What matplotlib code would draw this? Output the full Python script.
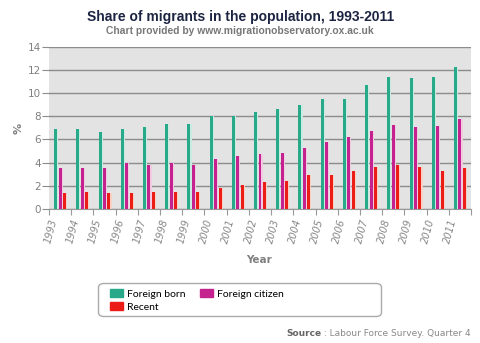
import numpy as np
import matplotlib
matplotlib.use("Agg")
import matplotlib.pyplot as plt
from matplotlib.patches import FancyBboxPatch, Patch

# 数据
years = [str(y) for y in range(1993, 2012)]
foreign_born = [6.9, 6.9, 6.6, 6.9, 7.1, 7.3, 7.3, 8.0, 8.0, 8.4, 8.6, 9.0, 9.5, 9.5,
                10.7, 11.4, 11.3, 11.4, 12.25]
foreign_citizen = [3.5, 3.5, 3.5, 4.0, 3.8, 3.95, 3.8, 4.35, 4.6, 4.75, 4.85, 5.25,
                   5.75, 6.25, 6.75, 7.25, 7.1, 7.2, 7.8]
recent = [1.35, 1.45, 1.35, 1.35, 1.45, 1.5, 1.5, 1.85, 2.05, 2.35, 2.45, 2.9, 2.95,
          3.3, 3.65, 3.8, 3.65, 3.3, 3.5]
series_names = ["Foreign born", "Foreign citizen", "Recent"]
y_ticks = [0, 2, 4, 6, 8, 10, 12, 14]

colors = ["#27a98a", "#c4228e", "#ec1d16"]
shade = ["#c9ece2", "#f2cbe3", "#fad0c2"]
grey = "#808080"

W, H = 480, 343
fig = plt.figure(figsize=(W / 100, H / 100), dpi=100)
fig.patch.set_facecolor("white")
ax = fig.add_axes([49 / W, 1 - 209 / H, 422 / W, (209 - 46.7) / H])
ax.set_facecolor("#e3e3e3")

x = np.arange(len(years))
bw = 0.135
step = 0.2
for i, vals in enumerate([foreign_born, foreign_citizen, recent]):
    pos = x + (i - 1) * step
    # 柱子右侧的浅色高光
    ax.bar(pos + 0.05, vals, width=bw, color=shade[i], zorder=2)
    ax.bar(pos, vals, width=bw, color=colors[i], zorder=3)

ax.set_xlim(-0.5, len(years) - 0.5)
ax.set_ylim(0, 14)
ax.set_yticks(y_ticks)
ax.yaxis.grid(True, color="#8c8c8c", linewidth=1.0, zorder=1)
ax.set_axisbelow(True)
for s in ["left", "right", "top"]:
    ax.spines[s].set_visible(False)
ax.spines["bottom"].set_color("#999999")
ax.tick_params(axis="y", length=5, color="#8c8c8c", labelsize=7.5, labelcolor=grey, pad=1)

# x 轴刻度画在分组边界处，年份标签放在组中央
ax.set_xticks(np.arange(len(years) + 1) - 0.5)
ax.set_xticklabels([])
ax.tick_params(axis="x", length=4, color="#999999")
for xi, yr in zip(x, years):
    ax.text(xi - 0.05, -0.75, yr, rotation=75, ha="right", va="top", fontsize=7,
            color="#888888", style="italic", family="DejaVu Sans")

fig.text(19 / W, 1 - 128 / H, "%", rotation=90, ha="center", va="center",
         fontsize=8, color=grey, fontweight="bold", family="DejaVu Sans")
fig.text(259 / W, 1 - 260 / H, "Year", ha="center", va="center", fontsize=7.5,
         color=grey, fontweight="bold", family="DejaVu Sans")

fig.text(241 / W, 1 - 17 / H, "Share of migrants in the population, 1993-2011",
         ha="center", va="center", fontsize=10, fontweight="bold", color="#1c2442",
         family="Liberation Sans")
fig.text(240 / W, 1 - 31 / H, "Chart provided by www.migrationobservatory.ox.ac.uk",
         ha="center", va="center", fontsize=7.4, fontweight="bold", color="#777777",
         family="Liberation Sans")

# 图例
box = FancyBboxPatch((98.5 / W, 1 - 316.5 / H), 283 / W, 33 / H,
                     boxstyle="round,pad=0,rounding_size=0.012",
                     transform=fig.transFigure, facecolor="white",
                     edgecolor="#aaaaaa", linewidth=1.0)
fig.patches.append(box)
handles = [Patch(facecolor=c, edgecolor=c) for c in colors]
order = [0, 2, 1]
fig.legend([handles[i] for i in order], [series_names[i] for i in order],
           loc="upper left", bbox_to_anchor=(103 / W, 1 - 282 / H), ncol=2,
           frameon=False, handlelength=1.2, handleheight=0.8,
           handletextpad=0.4, columnspacing=1.4, labelspacing=0.3,
           borderpad=0.2, prop={"family": "Lato", "size": 7.5})

# 数据来源
src = fig.text(471 / W, 1 - 334 / H, " : Labour Force Survey. Quarter 4", ha="right",
               va="center", fontsize=6.5, color="#888888", family="DejaVu Sans")
fig.canvas.draw()
bb = src.get_window_extent().transformed(fig.transFigure.inverted())
fig.text(bb.x0, 1 - 334 / H, "Source", ha="right", va="center", fontsize=6.5,
         color="#666666", fontweight="bold", family="DejaVu Sans")

fig.savefig("out.png", dpi=100)
